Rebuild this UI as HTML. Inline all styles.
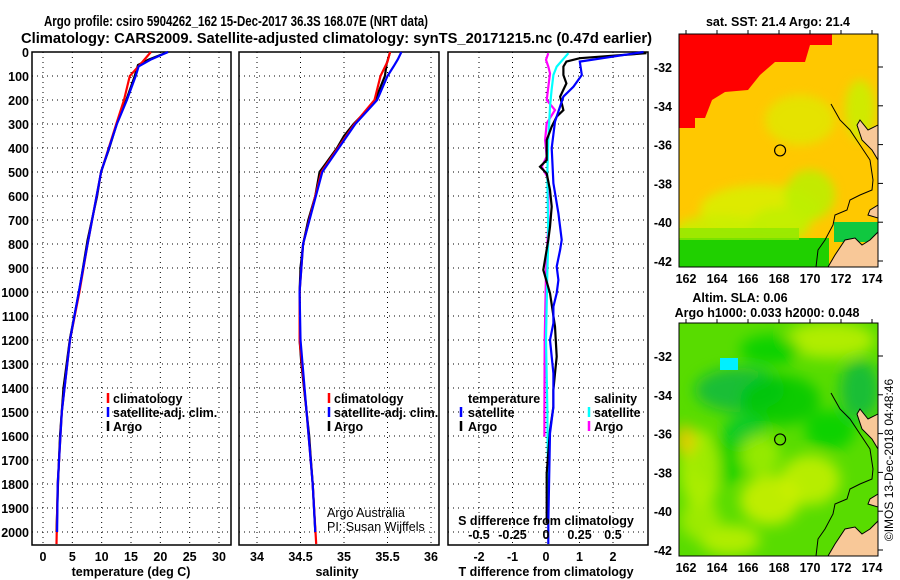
<!DOCTYPE html>
<html><head><meta charset="utf-8"><style>
html,body{margin:0;padding:0;background:#fff;}
svg{display:block;font-family:"Liberation Sans",Arial,sans-serif;}
.t{font-weight:bold;font-size:14.5px;fill:#000;}
.tk{font-weight:bold;font-size:12.5px;fill:#000;}
</style></head><body>
<svg id="fig" width="900" height="580" viewBox="0 0 900 580" xmlns="http://www.w3.org/2000/svg">
<text class="t" x="44" y="26" textLength="384" lengthAdjust="spacingAndGlyphs">Argo profile: csiro 5904262_162 15-Dec-2017 36.3S 168.07E (NRT data)</text>
<text class="t" x="21" y="43" textLength="631" lengthAdjust="spacingAndGlyphs">Climatology: CARS2009. Satellite-adjusted climatology: synTS_20171215.nc (0.47d earlier)</text>
<g id="plots"></g>
<g id="maps"></g>
</svg>
<script>
// ---------- data ----------
const depthTicks = [0,100,200,300,400,500,600,700,800,900,1000,1100,1200,1300,1400,1500,1600,1700,1800,1900,2000];
const tempTicks = [0,5,10,15,20,25,30];
const salTicks = [34,34.5,35,35.5,36];
const salTickLabels = ["34","34.5","35","35.5","36"];
const tdiffTicks = [-2,-1,0,1,2];
const sdiffTicks = [-0.5,-0.25,0,0.25,0.5];
const sdiffTickLabels = ["-0.5","-0.25","0","0.25","0.5"];

const argoDepth = [0,33,54,103,200,297,408,498,602,783,1005,1193,1400,1600,1800,2000];
const argoT = [21.3,17.9,16.2,15.6,14.2,12.6,11.2,9.9,9.2,7.6,6.1,4.6,3.5,2.9,2.55,2.3];
const climDepth = [0,40,100,200,300,500,800,1000,1200,1500,1800,2050];
const climT = [18.4,17,14.8,13.8,12.5,9.9,7.6,6.2,4.6,3.2,2.5,2.3];
const satDepth = [0,30,60,100,200,300,500,800,1000,1200,1500,1800,2000];
const satT = [21.3,18.5,16.3,15.8,14.3,12.6,9.9,7.6,6.1,4.6,3.2,2.5,2.4];

const argoSDepth = [0,50,100,200,230,300,350,400,470,500,600,700,800,900,1000,1100,1200,1300,1400,1500,1600,1700,1800,1900,2000];
const argoS = [35.53,35.49,35.47,35.36,35.3,35.11,35.0,34.92,34.78,34.72,34.67,34.59,34.53,34.5,34.49,34.49,34.49,34.51,34.54,34.57,34.6,34.62,34.64,34.655,34.67];
const climS = [35.53,35.5,35.42,35.35,35.12,34.74,34.53,34.49,34.49,34.57,34.64,34.68];
const satS = [35.66,35.62,35.57,35.5,35.38,35.13,34.75,34.53,34.49,34.5,34.57,34.64,34.67];

const satDiffDepth = [0,19,40,96,144,186,290,400,547,672,783,825,894,950,1005,1061,1130,1200,1339,1478,1589,1964,2050];
const satDiffT = [2.91,2.01,1.01,1.07,0.82,0.52,0.27,0.17,0.22,0.37,0.47,0.42,0.32,0.37,0.32,0.22,0.22,0.12,0.22,0.22,0.12,0.07,0.07];
const argoDiffDepth = [5,26,40,61,96,131,186,242,269,311,367,450,478,506,575,644,728,783,908,1005,1144,1269,1339,1408,1478,1575,1756,1964];
const argoDiffT = [3.0,1.01,0.61,0.52,0.52,0.61,0.42,0.52,0.32,0.17,0.02,0.02,-0.18,0.02,0.12,0.17,0.12,0.07,-0.08,0.12,0.27,0.32,0.27,0.22,0.22,0.12,0.02,0.02];
const satSDiffDepth = [5,61,96,158,228,367,506,783,922,1200,1478,1964];
const satSDiff = [0.167,0.08,0.055,0.042,0.03,0.017,0.01,0.017,0.01,0.0,0.01,0.017];
const argoSDiffDepth = [5,33,61,89,200,242,297,367,436,478,520,575,714,811,922,1200,1478,1603];
const argoSDiff = [0.017,0,0.017,0.03,0.005,0.067,0.005,-0.007,0.005,-0.032,0.01,0.017,0.017,0.01,0,-0.01,-0.012,-0.012];

// ---------- helpers ----------
const NS="http://www.w3.org/2000/svg";
const plots=document.getElementById('plots');
function mk(tag,attrs,parent){const e=document.createElementNS(NS,tag);for(const k in attrs)e.setAttribute(k,attrs[k]);(parent||plots).appendChild(e);return e;}
const TOP=52, BOT=545;
const yD = d => TOP + d*0.24;
function scale(v0,p0,v1,p1){return v=>p0+(v-v0)*(p1-p0)/(v1-v0);}
const xT = scale(0,43,30,219);
const xS = scale(34,257,36,431);
const xTd = scale(0,546,2,613);
const xSd = scale(0,546,0.5,613);

function panel(x0,x1,vticks,xf,name){
  const g=mk('g',{});
  
  
  depthTicks.forEach(d=>{const l=mk('line',{x1:x0,x2:x1,y1:yD(d),y2:yD(d),stroke:'#000','stroke-width':1,'stroke-dasharray':'1 4'},g);
    
    });
  vticks.forEach(v=>{const l=mk('line',{x1:xf(v),x2:xf(v),y1:TOP,y2:BOT,stroke:'#000','stroke-width':1,'stroke-dasharray':'1 4'},g);
    
    });
  const r=mk('rect',{x:x0,y:TOP,width:x1-x0,height:BOT-TOP,fill:'none',stroke:'#000','stroke-width':1.5},g);
  
  
  return g;
}
function line(depths,vals,xf,color,name,g,w){
  const pts=depths.map((d,i)=>xf(vals[i]).toFixed(1)+','+yD(d).toFixed(1)).join(' ');
  const p=mk('polyline',{points:pts,fill:'none',stroke:color,'stroke-width':w||2.2},g);
  
  
}
function text(x,y,s,cls,anchor,name,extra){
  const t=mk('text',Object.assign({x:x,y:y,class:cls||'tk','text-anchor':anchor||'start'},extra||{}));
  t.textContent=s;
  
  
  return t;
}
function legendMark(x,y,color){
  const l=mk('line',{x1:x,x2:x,y1:y-10,y2:y,stroke:color,'stroke-width':2.5});
  
  
}

depthTicks.forEach(d=>text(29,yD(d)+5,String(d),'tk','end','y-tick-label'));

const g1=panel(32,231,tempTicks,xT,'temperature-panel');
line(argoDepth,argoT,xT,'#000','argo-temperature-line',g1);
line(climDepth,climT,xT,'#f00','climatology-temperature-line',g1);
line(satDepth,satT,xT,'#00f','satellite-temperature-line',g1);
tempTicks.forEach(v=>text(xT(v),561,String(v),'tk','middle','x-tick-label'));
text(131,576,'temperature (deg C)','tk','middle','x-axis-title');
[['climatology','#f00'],['satellite-adj. clim.','#00f'],['Argo','#000']].forEach((e,i)=>{
  legendMark(108,403+i*14,e[1]); text(113,403+i*14,e[0],'tk','start','legend-entry');});

const g2=panel(239,439,salTicks,xS,'salinity-panel');
line(argoSDepth,argoS,xS,'#000','argo-salinity-line',g2);
line(climDepth,climS,xS,'#f00','climatology-salinity-line',g2);
line(satDepth,satS,xS,'#00f','satellite-salinity-line',g2);
salTicks.forEach((v,i)=>text(xS(v),561,salTickLabels[i],'tk','middle','x-tick-label'));
text(337,576,'salinity','tk','middle','x-axis-title');
[['climatology','#f00'],['satellite-adj. clim.','#00f'],['Argo','#000']].forEach((e,i)=>{
  legendMark(329,403+i*14,e[1]); text(334,403+i*14,e[0],'tk','start','legend-entry');});
text(327,517,'Argo Australia','tk','start','credit-text',{style:'font-weight:normal'});
text(327,531,'PI: Susan Wijffels','tk','start','credit-text',{style:'font-weight:normal'});

const g3=panel(448,648,tdiffTicks,xTd,'difference-panel');
line(argoSDiffDepth,argoSDiff,xSd,'#f0f','argo-salinity-diff-line',g3);
line(satSDiffDepth,satSDiff,xSd,'#0ff','satellite-salinity-diff-line',g3);
line(argoDiffDepth,argoDiffT,xTd,'#000','argo-temperature-diff-line',g3);
line(satDiffDepth,satDiffT,xTd,'#00f','satellite-temperature-diff-line',g3);
tdiffTicks.forEach(v=>text(xTd(v),561,String(v),'tk','middle','x-tick-label'));
text(546,576,'T difference from climatology','tk','middle','x-axis-title');
sdiffTicks.forEach((v,i)=>text(xSd(v),539,sdiffTickLabels[i],'tk','middle','s-tick-label'));
text(546,525,'S difference from climatology','tk','middle','s-axis-title');
text(468,403,'temperature','tk','start','legend-title');
legendMark(461,417,'#00f'); text(468,417,'satellite','tk','start','legend-entry');
legendMark(461,431,'#000'); text(468,431,'Argo','tk','start','legend-entry');
text(594,403,'salinity','tk','start','legend-title');
legendMark(589,417,'#0ff'); text(594,417,'satellite','tk','start','legend-entry');
legendMark(589,431,'#f0f'); text(594,431,'Argo','tk','start','legend-entry');

// ---------- maps ----------
const latTicks=[-32,-34,-36,-38,-40,-42];
const lonTicks=[162,164,166,168,170,172,174];
const lonX = scale(162,686,174,872);
const latY = scale(-32,67,-42,261);
function map(top,name,isSST){
  const off = top-34;
  const g=mk('g',{});
  
  
  const cid='clip'+top;
  const cp=mk('clipPath',{id:cid},g); mk('rect',{x:679,y:top,width:199,height:233},cp);
  const inner=mk('g',{'clip-path':'url(#'+cid+')'},g);
  const Y=v=>v+off;
  if(isSST){
    mk('rect',{x:679,y:top,width:199,height:233,fill:'#ffc800'},inner);
    mk('polygon',{points:[[679,34],[832,34],[832,45],[810,45],[805,62],[775,62],[760,75],[748,90],[725,92],[712,100],[705,118],[695,118],[695,128],[679,128]].map(p=>p[0]+','+p[1]).join(' '),fill:'#f00'},inner);
    const yb=mk('g',{filter:'url(#bl)'},inner);
    [[800,120,35,25,'#e0e800'],[760,210,60,25,'#d8f000'],[810,195,25,25,'#b8f000'],[720,230,45,15,'#c8f000'],[780,225,30,18,'#c0f000'],[860,110,15,30,'#c8f000']].forEach(e=>mk('ellipse',{cx:e[0],cy:e[1],rx:e[2],ry:e[3],fill:e[4],opacity:0.85},yb));
    mk('rect',{x:679,y:238,width:150,height:30,fill:'#20d000'},inner);
    mk('rect',{x:679,y:228,width:120,height:12,fill:'#90e800',opacity:0.8},inner);
    mk('rect',{x:834,y:222,width:44,height:20,fill:'#10c840'},inner);
  } else {
    mk('rect',{x:679,y:top,width:199,height:233,fill:'#58dc00'},inner);
    const b=mk('g',{filter:'url(#bl2)'},inner);
    [[740,390,45,22,'#10b840'],[830,340,45,18,'#c0f000'],[860,390,20,30,'#10b840'],[780,400,40,25,'#00c800'],[720,460,30,25,'#00d000'],[810,480,30,25,'#c8f000'],[700,470,20,40,'#b8f000'],[745,430,20,15,'#00c830'],[770,500,30,25,'#d0f000'],[685,440,10,15,'#f0c800'],[730,540,30,15,'#c0f000'],[830,430,25,20,'#00d000'],[770,350,30,15,'#00d000'],[760,455,20,20,'#a0ec00'],[700,520,20,20,'#a8ec00']].forEach(e=>mk('ellipse',{cx:e[0],cy:e[1],rx:e[2],ry:e[3],fill:e[4],opacity:0.85},b));
    mk('rect',{x:720,y:358,width:18,height:12,fill:'#00f0ff'},inner);
  }
  const land='#f8c898';
  mk('polygon',{points:[[828,267],[835,255],[845,240],[855,238],[862,245],[870,240],[878,232],[878,267]].map(p=>p[0]+','+Y(p[1])).join(' '),fill:land,stroke:'#000','stroke-width':1},inner);
  mk('polygon',{points:[[860,120],[868,130],[878,125],[878,160],[872,150],[862,140],[857,125]].map(p=>p[0]+','+Y(p[1])).join(' '),fill:land,stroke:'#000','stroke-width':1},inner);
  mk('polygon',{points:[[878,205],[870,210],[868,215],[878,218]].map(p=>p[0]+','+Y(p[1])).join(' '),fill:land,stroke:'#000','stroke-width':1},inner);
  mk('polyline',{points:[[831,104],[840,120],[850,130],[860,145],[870,160],[873,180],[872,190],[860,195],[850,200],[847,210],[835,215],[833,225],[825,240],[818,250],[816,267]].map(p=>p[0]+','+Y(p[1])).join(' '),fill:'none',stroke:'#000','stroke-width':1},inner);
  const c=mk('circle',{cx:lonX(168.07),cy:Y(latY(-36.3)),r:5.5,fill:'none',stroke:'#000','stroke-width':1.2},g);
  
  
  const fr=mk('rect',{x:679,y:top,width:199,height:233,fill:'none',stroke:'#000','stroke-width':1},g);
  
  
  latTicks.forEach(v=>{text(672,Y(latY(v))+5,String(v),'tk','end','lat-tick-label');
    mk('line',{x1:878,x2:883,y1:Y(latY(v)),y2:Y(latY(v)),stroke:'#000'},g);});
  lonTicks.forEach(v=>{text(lonX(v),top+249,String(v),'tk','middle','lon-tick-label');
    mk('line',{x1:lonX(v),x2:lonX(v),y1:top-4,y2:top,stroke:'#000'},g);});
}
const defs=mk('defs',{});
const f=mk('filter',{id:'bl',x:'-50%',y:'-50%',width:'200%',height:'200%'},defs); mk('feGaussianBlur',{stdDeviation:5},f);
const f2=mk('filter',{id:'bl2',x:'-50%',y:'-50%',width:'200%',height:'200%'},defs); mk('feGaussianBlur',{stdDeviation:7},f2);
map(34,'sst-map',true);
map(323,'sla-map',false);
text(778,26,'sat. SST: 21.4 Argo: 21.4','tk','middle','sst-map-title');
text(740,302,'Altim. SLA: 0.06','tk','middle','sla-map-title');
text(767,317,'Argo h1000: 0.033 h2000: 0.048','tk','middle','sla-map-subtitle');
text(0,0,'©IMOS 13-Dec-2018 04:48:46','tk','middle','timestamp-text',{transform:'translate(893,460) rotate(-90)',style:'font-weight:normal;font-size:12px'});
</script>
</body></html>
